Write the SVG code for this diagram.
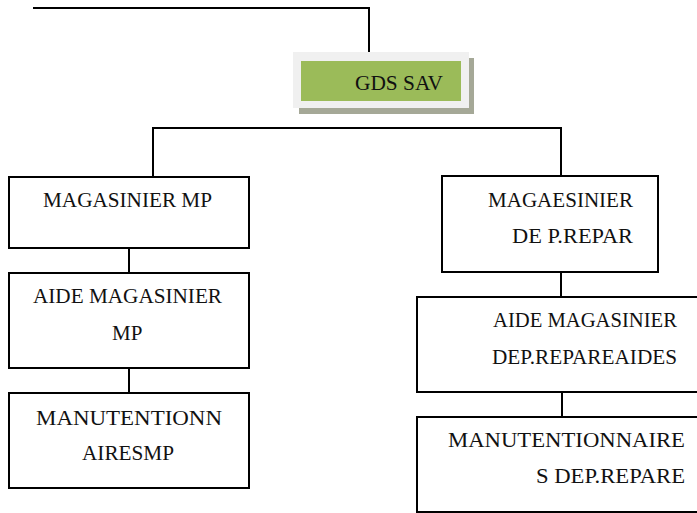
<svg xmlns="http://www.w3.org/2000/svg" width="697" height="513" viewBox="0 0 697 513">
  <style>
    .box { fill: #ffffff; stroke: #000000; stroke-width: 2; }
    .wire { fill: none; stroke: #000000; stroke-width: 2; }
    .lbl { font-family: "Liberation Serif", "Times New Roman", serif; font-size: 21px; fill: #111111; }
  </style>
  <rect width="697" height="513" fill="#ffffff"/>

  <!-- connectors -->
  <g id="connectors">
    <polyline class="wire" points="33,8 369,8 369,52"/>
    <polyline class="wire" points="153,177 153,128 561,128 561,176"/>
    <line class="wire" x1="129" y1="248" x2="129" y2="273"/>
    <line class="wire" x1="129" y1="368" x2="129" y2="393"/>
    <line class="wire" x1="561" y1="272" x2="561" y2="297"/>
    <line class="wire" x1="562" y1="392" x2="562" y2="417"/>
  </g>

  <!-- head node -->
  <g id="gds-sav">
    <rect x="299" y="58" width="175" height="56" fill="#a5a897"/>
    <rect x="293" y="52" width="176" height="56" fill="#f0f0f0"/>
    <rect x="301" y="61" width="160" height="40" fill="#9bbb59"/>
    <text class="lbl" x="355" y="90" textLength="88" lengthAdjust="spacingAndGlyphs">GDS SAV</text>
  </g>

  <!-- left branch -->
  <g id="magasinier-mp">
    <rect class="box" x="9" y="177" width="240" height="71"/>
    <text class="lbl" x="43" y="207" textLength="169" lengthAdjust="spacingAndGlyphs">MAGASINIER MP</text>
  </g>
  <g id="aide-magasinier-mp">
    <rect class="box" x="9" y="273" width="240" height="95"/>
    <text class="lbl" x="33" y="303" textLength="189" lengthAdjust="spacingAndGlyphs">AIDE MAGASINIER</text>
    <text class="lbl" x="112" y="340">MP</text>
  </g>
  <g id="manutentionnaires-mp">
    <rect class="box" x="9" y="393" width="240" height="95"/>
    <text class="lbl" x="36" y="425" textLength="186" lengthAdjust="spacingAndGlyphs">MANUTENTIONN</text>
    <text class="lbl" x="82" y="460" textLength="92" lengthAdjust="spacingAndGlyphs">AIRESMP</text>
  </g>

  <!-- right branch -->
  <g id="magasinier-pieces">
    <rect class="box" x="442" y="176" width="216" height="96"/>
    <text class="lbl" x="488" y="207" textLength="145" lengthAdjust="spacingAndGlyphs">MAGAESINIER</text>
    <text class="lbl" x="512" y="243" textLength="121" lengthAdjust="spacingAndGlyphs">DE P.REPAR</text>
  </g>
  <g id="aide-magasinier-pieces">
    <rect class="box" x="417" y="297" width="290" height="95"/>
    <text class="lbl" x="493" y="327" textLength="184" lengthAdjust="spacingAndGlyphs">AIDE MAGASINIER</text>
    <text class="lbl" x="492" y="364" textLength="185" lengthAdjust="spacingAndGlyphs">DEP.REPAREAIDES</text>
  </g>
  <g id="manutentionnaires-pieces">
    <rect class="box" x="417" y="417" width="290" height="95"/>
    <text class="lbl" x="448" y="447" textLength="237" lengthAdjust="spacingAndGlyphs">MANUTENTIONNAIRE</text>
    <text class="lbl" x="536" y="483" textLength="149" lengthAdjust="spacingAndGlyphs">S DEP.REPARE</text>
  </g>
</svg>
